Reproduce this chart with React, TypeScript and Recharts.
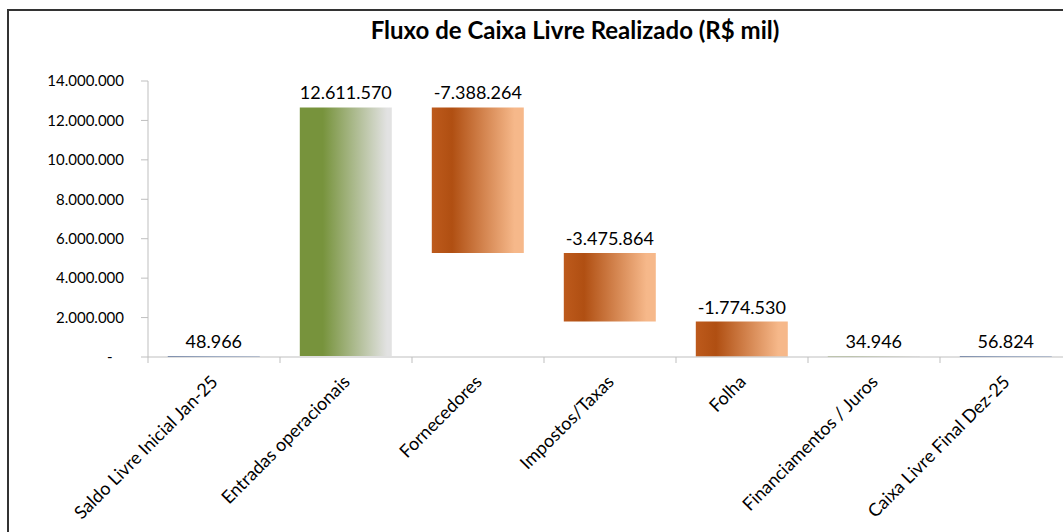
import { BarChart, Bar, XAxis, YAxis, Cell, LabelList } from "recharts";

const categories = [
  "Saldo Livre Inicial Jan-25",
  "Entradas operacionais",
  "Fornecedores",
  "Impostos/Taxas",
  "Folha",
  "Financiamentos / Juros",
  "Caixa Livre Final Dez-25",
];
const flows = [48966, 12611570, -7388264, -3475864, -1774530, 34946, 56824];
const kinds = ["total", "up", "down", "down", "down", "up", "total"];
const yTicks = [0, 2000000, 4000000, 6000000, 8000000, 10000000, 12000000, 14000000];

const FONT = "Lato, 'Open Sans', sans-serif";

const fmt = (v: number) => {
  const s = Math.abs(v).toString().replace(/\B(?=(\d{3})+(?!\d))/g, ".");
  return v < 0 ? "-" + s : s;
};

// waterfall rows: invisible base + visible step
let running = 0;
const data = categories.map((name, i) => {
  const v = flows[i];
  let base = 0;
  let step = 0;
  if (kinds[i] === "total") {
    step = v;
    running = v;
  } else if (v >= 0) {
    base = running;
    step = v;
    running += v;
  } else {
    base = running + v;
    step = -v;
    running += v;
  }
  return { name, base, step, label: fmt(v), kind: kinds[i] };
});

const fillFor = (k: string) =>
  k === "total" ? "url(#gBlue)" : k === "up" ? "url(#gGreen)" : "url(#gOrange)";

// category label + tick marks on the band boundaries (Excel style)
const CatTick = (props: any) => {
  const { x, y, payload, width, visibleTicksCount, index } = props;
  const band = width / (visibleTicksCount || categories.length);
  const axisY = y - 8;
  return (
    <g>
      <line x1={x - band / 2} x2={x - band / 2} y1={axisY} y2={axisY + 6} stroke="#bfbfbf" />
      {index === categories.length - 1 && (
        <line x1={x + band / 2} x2={x + band / 2} y1={axisY} y2={axisY + 6} stroke="#bfbfbf" />
      )}
      <g transform={`translate(${x + 5},${y + 18}) rotate(-45)`}>
        <text x={0} y={0} textAnchor="end" fontSize={18} fill="#000" fontFamily={FONT}>
          {payload.value}
        </text>
      </g>
    </g>
  );
};

const TopLabel = (props: any) => {
  const { x, y, width, value } = props;
  return (
    <text
      x={x + width / 2}
      y={y - 8}
      textAnchor="middle"
      fontSize={18}
      fill="#000"
      fontFamily={FONT}
    >
      {value}
    </text>
  );
};

export default function App() {
  return (
    <div
      style={{
        position: "absolute",
        left: 0,
        top: 0,
        width: 1063,
        height: 532,
        overflow: "hidden",
        background: "#fff",
        fontFamily: FONT,
      }}
    >
      <div
        style={{
          position: "absolute",
          left: 7,
          top: 9,
          width: 1100,
          height: 600,
          borderLeft: "2px solid #333",
          borderTop: "2px solid #333",
        }}
      />
      <div
        style={{
          position: "absolute",
          left: 0,
          top: 15,
          width: 1150,
          textAlign: "center",
          fontWeight: 700,
          fontSize: 24,
          color: "#000",
        }}
      >
        Fluxo de Caixa Livre Realizado (R$ mil)
      </div>
      <div style={{ position: "absolute", left: 0, top: 0 }}>
        <BarChart
          width={1075}
          height={532}
          data={data}
          margin={{ top: 81, right: 3, bottom: 0, left: 0 }}
          barCategoryGap="15%"
        >
          <defs>
            <linearGradient id="gGreen" x1="0" y1="0" x2="1" y2="0">
              <stop offset="0" stopColor="#77933c" />
              <stop offset="0.25" stopColor="#77933c" />
              <stop offset="0.95" stopColor="#e2e2e2" />
              <stop offset="1" stopColor="#e2e2e2" />
            </linearGradient>
            <linearGradient id="gOrange" x1="0" y1="0" x2="1" y2="0">
              <stop offset="0" stopColor="#bd5a1c" />
              <stop offset="0.22" stopColor="#b04f12" />
              <stop offset="0.9" stopColor="#f6b88a" />
              <stop offset="1" stopColor="#f6b88a" />
            </linearGradient>
            <linearGradient id="gBlue" x1="0" y1="0" x2="1" y2="0">
              <stop offset="0" stopColor="#3f5f9a" />
              <stop offset="0.5" stopColor="#7f9ac8" />
              <stop offset="1" stopColor="#a9bbdc" />
            </linearGradient>
          </defs>
          <XAxis
            dataKey="name"
            interval={0}
            tick={<CatTick />}
            tickLine={false}
            tickSize={6}
            tickMargin={2}
            axisLine={{ stroke: "#bfbfbf" }}
            height={175}
          />
          <YAxis
            domain={[0, 14000000]}
            ticks={yTicks}
            width={148}
            axisLine={{ stroke: "#bfbfbf" }}
            tickLine={{ stroke: "#bfbfbf" }}
            tickSize={7}
            tickMargin={17}
            tickFormatter={(v: number) => (v === 0 ? "-\u00a0\u00a0\u00a0" : fmt(v))}
            tick={{ fill: "#000", fontSize: 15, fontFamily: FONT }}
            interval={0}
          />
          <Bar dataKey="base" stackId="w" fill="transparent" isAnimationActive={false} />
          <Bar dataKey="step" stackId="w" isAnimationActive={false}>
            {data.map((d, i) => (
              <Cell key={`c-${i}`} fill={fillFor(d.kind)} />
            ))}
            <LabelList dataKey="label" content={<TopLabel />} />
          </Bar>
        </BarChart>
      </div>
    </div>
  );
}
